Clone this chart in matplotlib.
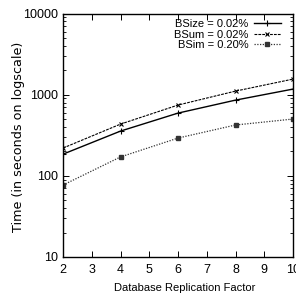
import matplotlib
matplotlib.use('Agg')
import matplotlib.pyplot as plt
from matplotlib.ticker import LogLocator, NullFormatter, FixedLocator

plt.rcParams['font.family'] = ['Liberation Sans Narrow', 'Liberation Sans', 'DejaVu Sans']

replication = [2, 4, 6, 8, 10]
bsize = [185, 356, 593, 857, 1172]
bsum = [220, 434, 745, 1107, 1556]
bsim = [77, 171, 292, 423, 501]

fig = plt.figure(figsize=(2.96, 2.99), dpi=100)
ax = fig.add_axes([0.213, 0.1405, 0.777, 0.8143])

ax.plot(replication, bsize, color='black', linestyle='-', linewidth=1.0,
        marker='+', markersize=4, markeredgewidth=0.8, label='BSize = 0.02%')
ax.plot(replication, bsum, color='black', linestyle=(0, (2.5, 1)), linewidth=0.8,
        marker='x', markersize=3, markeredgewidth=0.8, label='BSum = 0.02%')
ax.plot(replication, bsim, color='#333333', linestyle=(0, (1, 1.2)), linewidth=0.9,
        marker='s', markersize=2.2, label='BSim = 0.20%')

ax.set_yscale('log')
ax.set_xlim(2, 10)
ax.set_ylim(10, 10000)
ax.xaxis.set_major_locator(FixedLocator(range(2, 11)))
ax.yaxis.set_minor_locator(LogLocator(base=10, subs=range(2, 10), numticks=10))
ax.yaxis.set_minor_formatter(NullFormatter())
ax.set_yticks([10, 100, 1000, 10000])
ax.set_yticklabels(['10', '100', '1000', '10000'])

ax.tick_params(which='both', direction='in', top=True, right=True, labelsize=9)
ax.tick_params(axis='x', pad=5)
ax.tick_params(which='major', length=4, width=0.7)
ax.tick_params(which='minor', length=2, width=0.6)
for s in ax.spines.values():
    s.set_linewidth(1.0)

ax.set_xlabel('Database Replication Factor', fontsize=8)
ax.xaxis.set_label_coords(0.53, -0.107)
ax.set_ylabel('Time (in seconds on logscale)', fontsize=9.2,
              family=['DejaVu Sans'])
ax.yaxis.set_label_coords(-0.165, 0.493)

leg = ax.legend(loc='upper right', frameon=False, markerfirst=False, fontsize=8,
                handlelength=2.4, handletextpad=0.5, labelspacing=0.05,
                borderaxespad=0.3, borderpad=0.2, bbox_to_anchor=(0.97, 1.0))

fig.savefig('out.png', dpi=100)
